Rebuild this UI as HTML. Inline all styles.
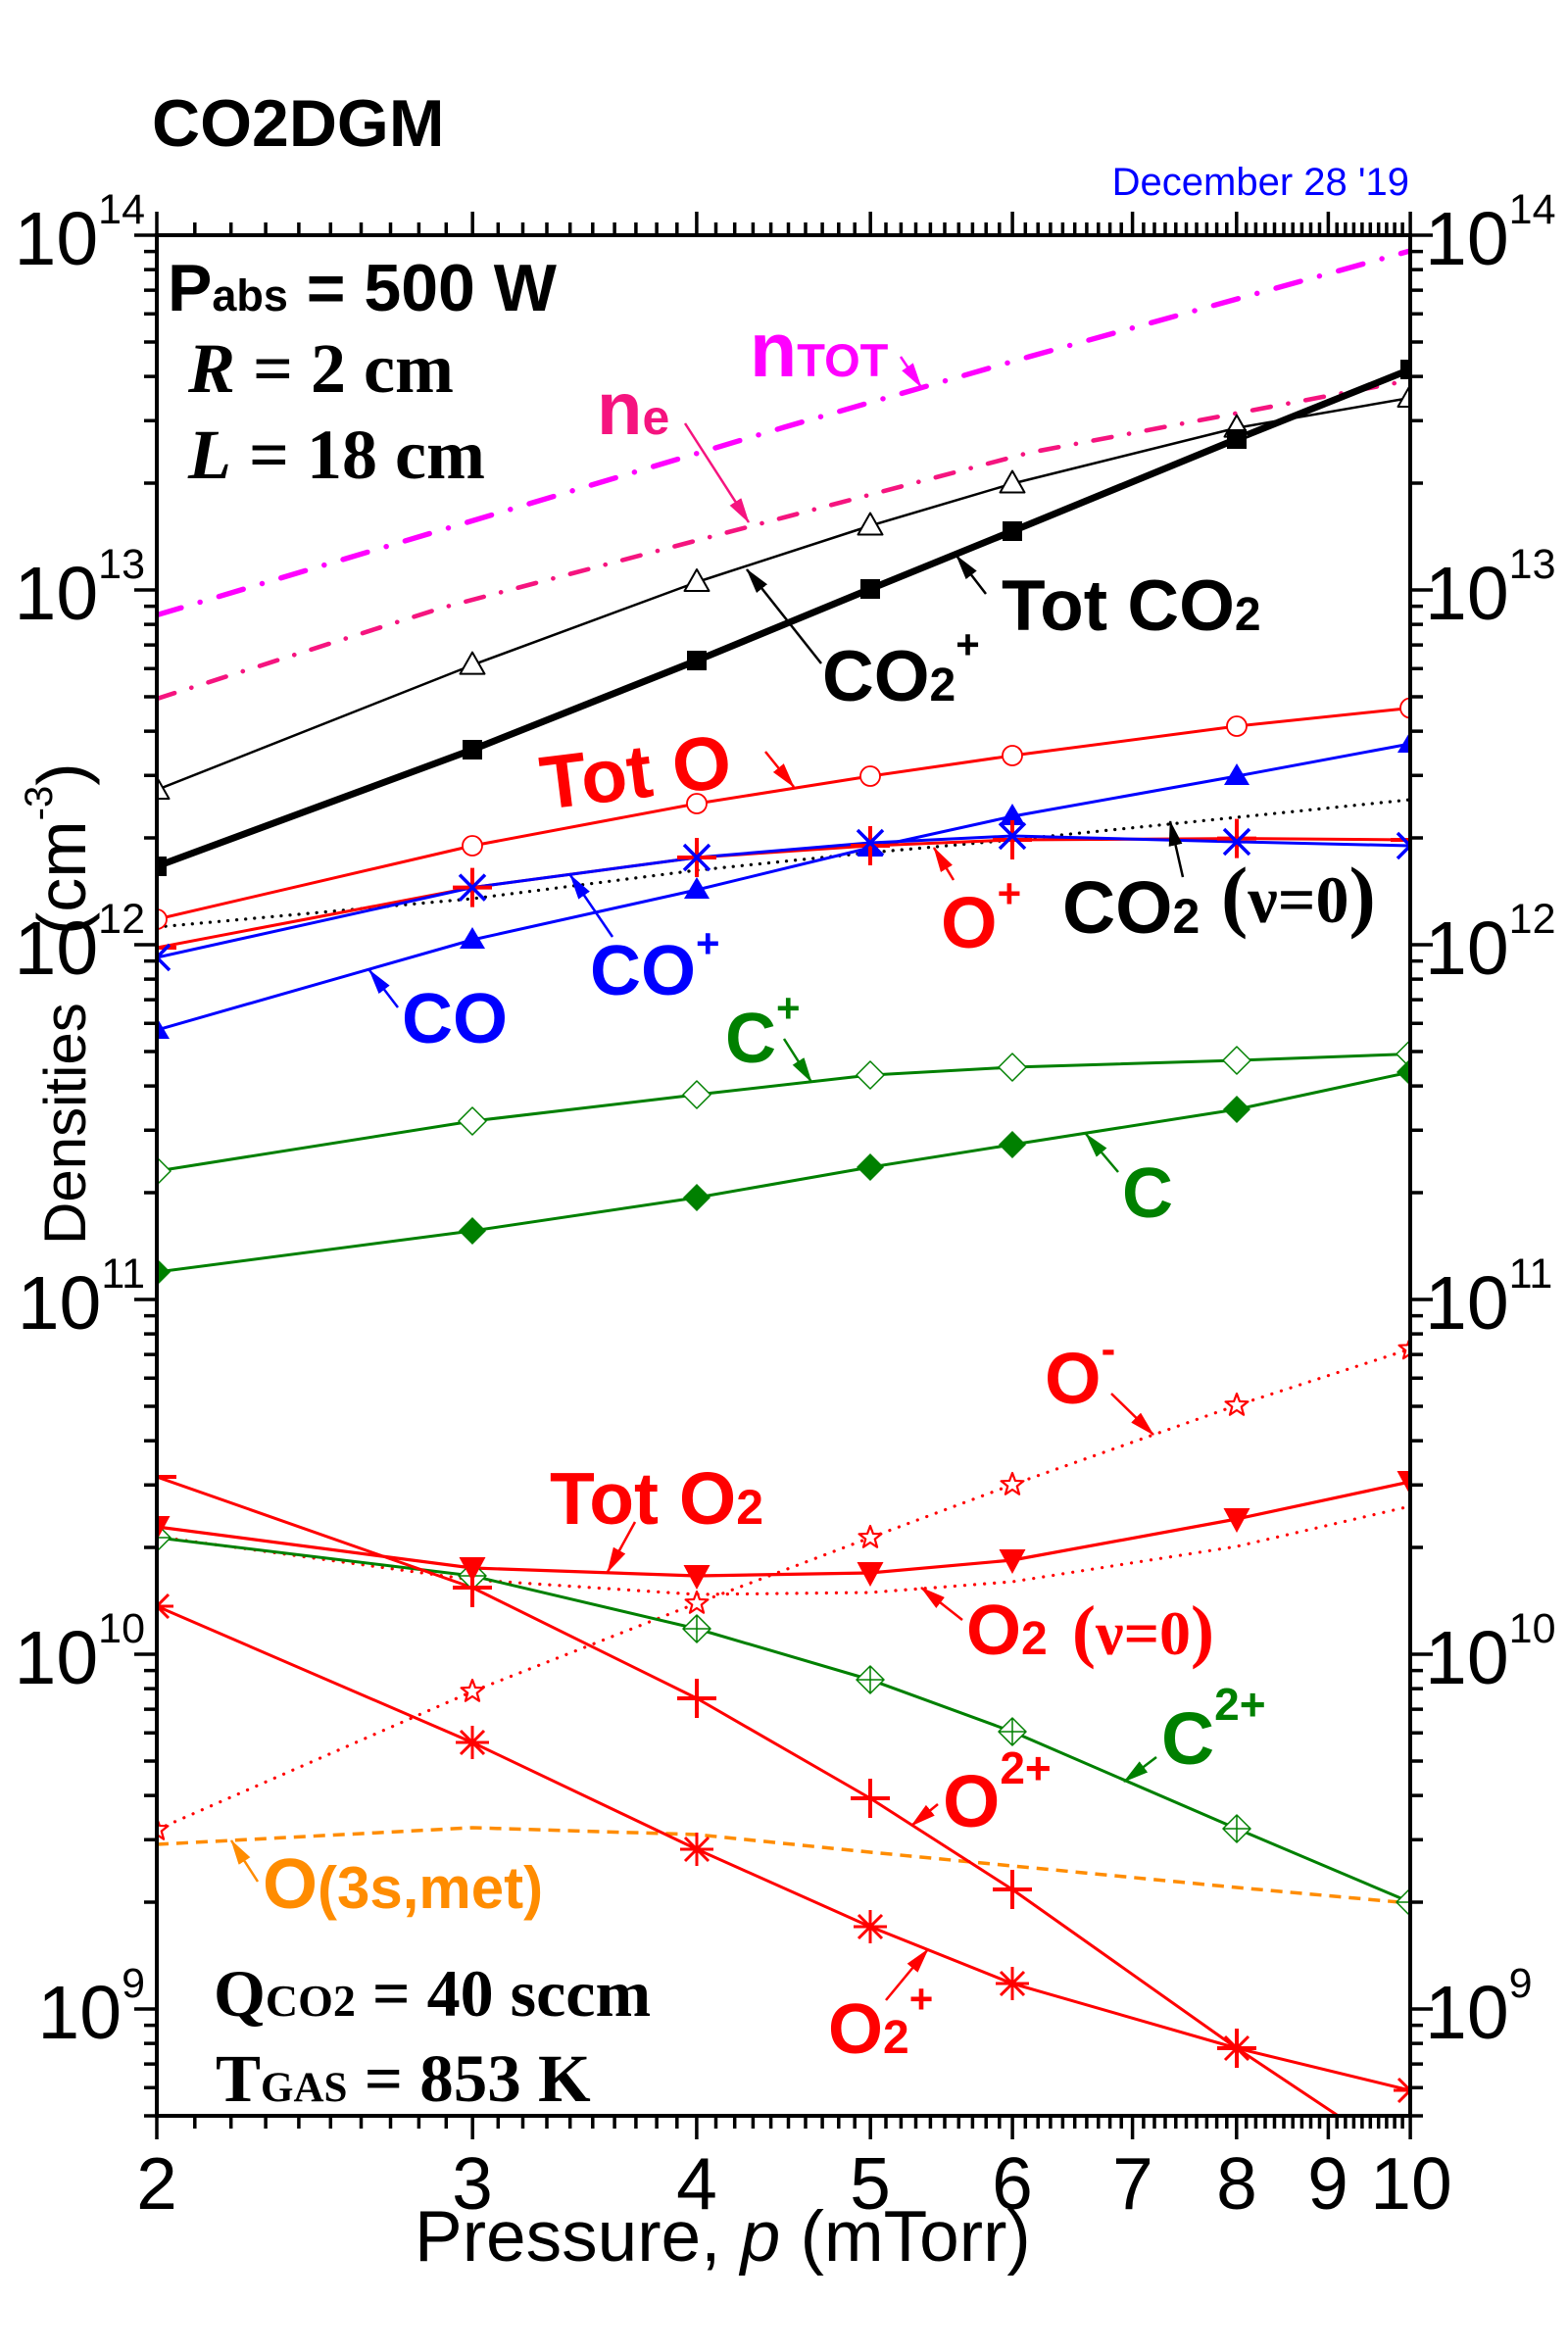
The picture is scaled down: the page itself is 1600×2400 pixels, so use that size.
<!DOCTYPE html>
<html><head><meta charset="utf-8"><style>html,body{margin:0;padding:0;background:#fff}svg{display:block}</style></head>
<body>
<svg xmlns="http://www.w3.org/2000/svg" width="1600" height="2400" viewBox="0 0 1600 2400" font-family="'Liberation Sans', Arial, sans-serif">
<rect width="1600" height="2400" fill="#fff"/>
<defs>
<clipPath id="pc"><rect x="160" y="240" width="1279" height="1919"/></clipPath>
<marker id="mK" viewBox="0 0 26 14" refX="25" refY="7" markerWidth="26" markerHeight="14" markerUnits="userSpaceOnUse" orient="auto"><path d="M0,0L26,7L0,14Z" fill="#000"/></marker>
<marker id="mR" viewBox="0 0 26 14" refX="25" refY="7" markerWidth="26" markerHeight="14" markerUnits="userSpaceOnUse" orient="auto"><path d="M0,0L26,7L0,14Z" fill="#f00"/></marker>
<marker id="mB" viewBox="0 0 26 14" refX="25" refY="7" markerWidth="26" markerHeight="14" markerUnits="userSpaceOnUse" orient="auto"><path d="M0,0L26,7L0,14Z" fill="#00f"/></marker>
<marker id="mG" viewBox="0 0 26 14" refX="25" refY="7" markerWidth="26" markerHeight="14" markerUnits="userSpaceOnUse" orient="auto"><path d="M0,0L26,7L0,14Z" fill="#008000"/></marker>
<marker id="mM" viewBox="0 0 26 14" refX="25" refY="7" markerWidth="26" markerHeight="14" markerUnits="userSpaceOnUse" orient="auto"><path d="M0,0L26,7L0,14Z" fill="#f0f"/></marker>
<marker id="mP" viewBox="0 0 26 14" refX="25" refY="7" markerWidth="26" markerHeight="14" markerUnits="userSpaceOnUse" orient="auto"><path d="M0,0L26,7L0,14Z" fill="#f5147f"/></marker>
<marker id="mO" viewBox="0 0 26 14" refX="25" refY="7" markerWidth="26" markerHeight="14" markerUnits="userSpaceOnUse" orient="auto"><path d="M0,0L26,7L0,14Z" fill="#ff8c00"/></marker>
<path id="triO" d="M0,-13L12.5,9H-12.5Z" fill="#fff" stroke="#000" stroke-width="2"/>
<rect id="sqF" x="-10" y="-10" width="20" height="20" fill="#000"/>
<circle id="cirO" r="10" fill="#fff" stroke="#f00" stroke-width="1.8"/>
<path id="triF" d="M0,-13L13,9H-13Z" fill="#00f"/>
<path id="xB" d="M-13,-13L13,13M-13,13L13,-13" stroke="#00f" stroke-width="3.5" fill="none"/>
<path id="plR" d="M-20,0H20M0,-20V20" stroke="#f00" stroke-width="4" fill="none"/>
<path id="dmO" d="M0,-14L14,0L0,14L-14,0Z" fill="#fff" stroke="#008000" stroke-width="1.5"/>
<path id="dmF" d="M0,-14L14,0L0,14L-14,0Z" fill="#008000"/>
<path id="dmX" d="M0,-14L14,0L0,14L-14,0ZM0,-14V14M-14,0H14" fill="#fff" stroke="#008000" stroke-width="1.5"/>
<path id="stO" d="M0,-12L2.94,-4.05L11.41,-3.71L4.76,1.55L7.05,9.71L0,5L-7.05,9.71L-4.76,1.55L-11.41,-3.71L-2.94,-4.05Z" fill="#fff" stroke="#f00" stroke-width="2.2"/>
<path id="triD" d="M0,14L13.5,-11H-13.5Z" fill="#f00"/>
<path id="ast" d="M0,-17V17M-17,0H17M-12,-12L12,12M-12,12L12,-12" stroke="#f00" stroke-width="3" fill="none"/>
<path id="xt" d="M198.8 240v-13M235.7 240v-13M271.1 240v-13M304.9 240v-13M337.3 240v-13M368.5 240v-13M398.5 240v-13M427.4 240v-13M455.3 240v-13M508.3 240v-13M533.5 240v-13M558 240v-13M581.7 240v-13M604.8 240v-13M627.1 240v-13M648.9 240v-13M670.1 240v-13M690.8 240v-13M730.5 240v-13M749.7 240v-13M768.4 240v-13M786.6 240v-13M804.5 240v-13M822 240v-13M839.1 240v-13M855.8 240v-13M872.2 240v-13M904 240v-13M919.4 240v-13M934.5 240v-13M949.4 240v-13M964 240v-13M978.3 240v-13M992.4 240v-13M1006.2 240v-13M1019.8 240v-13M1046.3 240v-13M1059.2 240v-13M1071.9 240v-13M1084.4 240v-13M1096.7 240v-13M1108.9 240v-13M1120.8 240v-13M1132.6 240v-13M1144.2 240v-13M1166.9 240v-13M1178 240v-13M1189 240v-13M1199.8 240v-13M1210.5 240v-13M1221 240v-13M1231.4 240v-13M1241.6 240v-13M1251.8 240v-13M1271.7 240v-13M1281.4 240v-13M1291 240v-13M1300.5 240v-13M1310 240v-13M1319.2 240v-13M1328.4 240v-13M1337.5 240v-13M1346.5 240v-13M1364.2 240v-13M1372.9 240v-13M1381.4 240v-13M1389.9 240v-13M1398.3 240v-13M1406.7 240v-13M1414.9 240v-13M1423.1 240v-13M1431.1 240v-13M160 240v-24M482.2 240v-24M710.9 240v-24M888.2 240v-24M1033.1 240v-24M1155.6 240v-24M1261.8 240v-24M1355.4 240v-24M1439.1 240v-24" stroke="#000" stroke-width="3.5" fill="none"/>
<path id="yt" d="M160 256.6h-13M160 275.1h-13M160 296.1h-13M160 320.3h-13M160 349h-13M160 384.1h-13M160 429.3h-13M160 493h-13M160 618.6h-13M160 637.1h-13M160 658.1h-13M160 682.3h-13M160 711h-13M160 746.1h-13M160 791.3h-13M160 855h-13M160 980.6h-13M160 999.1h-13M160 1020.1h-13M160 1044.3h-13M160 1073h-13M160 1108.1h-13M160 1153.3h-13M160 1217h-13M160 1342.6h-13M160 1361.1h-13M160 1382.1h-13M160 1406.3h-13M160 1435h-13M160 1470.1h-13M160 1515.3h-13M160 1579h-13M160 1704.6h-13M160 1723.1h-13M160 1744.1h-13M160 1768.3h-13M160 1797h-13M160 1832.1h-13M160 1877.3h-13M160 1941h-13M160 2066.6h-13M160 2085.1h-13M160 2106.1h-13M160 2130.3h-13M160 2159h-13M160 240h-23M160 602h-23M160 964h-23M160 1326h-23M160 1688h-23M160 2050h-23" stroke="#000" stroke-width="3.5" fill="none"/>
</defs>

<g clip-path="url(#pc)" fill="none" stroke-linejoin="round">
<path d="M160,627.6L450,541L800,436L1050,364L1439,256" stroke="#f0f" stroke-width="5.4" stroke-linecap="round" stroke-dasharray="26 20 0.1 20"/>
<path d="M160,713L450,620.5L800,528L1050,462L1439,388" stroke="#f5147f" stroke-width="4.6" stroke-linecap="round" stroke-dasharray="19 18 0.1 18"/>
<path d="M160,946L482,917L711,888L888,870L1033,857L1262,834L1439,816" stroke="#000" stroke-width="3.2" stroke-linecap="round" stroke-dasharray="0.1 9"/>
<path d="M160,806L482,678.6L711,594L888,536.5L1033,493.5L1262,436.6L1439,406" stroke="#000" stroke-width="2.5"/>
<path d="M160,884L482,765L711,674L888,601L1033,542L1262,448L1439,377" stroke="#000" stroke-width="7"/>
<path d="M160,938L482,863L711,820L888,792L1033,771L1262,741L1439,722.5" stroke="#f00" stroke-width="3"/>
<path d="M160,1051L482,959L711,908L888,865L1033,833L1262,792L1439,759" stroke="#00f" stroke-width="3"/>
<path d="M160,967L482,905.6L711,875L888,863L1033,857L1262,855.6L1439,857" stroke="#f00" stroke-width="3"/>
<path d="M160,977L482,905.6L711,875L888,860L1033,853L1262,859L1439,863" stroke="#00f" stroke-width="3"/>
<path d="M160,1195L482,1144L711,1117L888,1097L1033,1089L1262,1082L1439,1075.5" stroke="#008000" stroke-width="3"/>
<path d="M160,1298L482,1256L711,1222L888,1191L1033,1168L1262,1132L1439,1094" stroke="#008000" stroke-width="3"/>
<path d="M160,1867L482,1726L711,1636L888,1569L1033,1515L1262,1434L1439,1376.5" stroke="#f00" stroke-width="3.2" stroke-linecap="round" stroke-dasharray="0.1 10"/>
<path d="M160,1568L482,1612L711,1627L888,1625L1033,1614L1262,1578L1439,1537" stroke="#f00" stroke-width="3.2" stroke-linecap="round" stroke-dasharray="0.1 10"/>
<path d="M160,1558L482,1600L711,1608L888,1605L1033,1592L1262,1550L1439,1512" stroke="#f00" stroke-width="3.2"/>
<path d="M160,1569L482,1608L711,1662L888,1714L1033,1767L1262,1866L1439,1941" stroke="#008000" stroke-width="3"/>
<path d="M160,1882L482,1865L711,1872L888,1890L1033,1904L1262,1926L1439,1942" stroke="#ff8c00" stroke-width="3.5" stroke-dasharray="12 8"/>
<path d="M160,1507L482,1620L711,1733L888,1835L1033,1928L1262,2090L1439,2208" stroke="#f00" stroke-width="3"/>
<path d="M160,1639L482,1778L711,1887L888,1966L1033,2024L1262,2090L1439,2133" stroke="#f00" stroke-width="3"/>

<use href="#triO" x="160" y="806"/><use href="#triO" x="482" y="678.6"/><use href="#triO" x="711" y="594"/><use href="#triO" x="888" y="536.5"/><use href="#triO" x="1033" y="493.5"/><use href="#triO" x="1262" y="436.6"/><use href="#triO" x="1439" y="406"/>
<use href="#sqF" x="160" y="884"/><use href="#sqF" x="482" y="765"/><use href="#sqF" x="711" y="674"/><use href="#sqF" x="888" y="601"/><use href="#sqF" x="1033" y="542"/><use href="#sqF" x="1262" y="448"/><use href="#sqF" x="1439" y="377"/>
<use href="#cirO" x="160" y="938"/><use href="#cirO" x="482" y="863"/><use href="#cirO" x="711" y="820"/><use href="#cirO" x="888" y="792"/><use href="#cirO" x="1033" y="771"/><use href="#cirO" x="1262" y="741"/><use href="#cirO" x="1439" y="722.5"/>
<use href="#triF" x="160" y="1051"/><use href="#triF" x="482" y="959"/><use href="#triF" x="711" y="908"/><use href="#triF" x="888" y="865"/><use href="#triF" x="1033" y="833"/><use href="#triF" x="1262" y="792"/><use href="#triF" x="1439" y="759"/>
<use href="#plR" x="160" y="967"/><use href="#plR" x="482" y="905.6"/><use href="#plR" x="711" y="875"/><use href="#plR" x="888" y="863"/><use href="#plR" x="1033" y="857"/><use href="#plR" x="1262" y="855.6"/><use href="#plR" x="1439" y="857"/>
<use href="#xB" x="160" y="977"/><use href="#xB" x="482" y="905.6"/><use href="#xB" x="711" y="875"/><use href="#xB" x="888" y="860"/><use href="#xB" x="1033" y="853"/><use href="#xB" x="1262" y="859"/><use href="#xB" x="1439" y="863"/>
<use href="#dmO" x="160" y="1195"/><use href="#dmO" x="482" y="1144"/><use href="#dmO" x="711" y="1117"/><use href="#dmO" x="888" y="1097"/><use href="#dmO" x="1033" y="1089"/><use href="#dmO" x="1262" y="1082"/><use href="#dmO" x="1439" y="1075.5"/>
<use href="#dmF" x="160" y="1298"/><use href="#dmF" x="482" y="1256"/><use href="#dmF" x="711" y="1222"/><use href="#dmF" x="888" y="1191"/><use href="#dmF" x="1033" y="1168"/><use href="#dmF" x="1262" y="1132"/><use href="#dmF" x="1439" y="1094"/>
<use href="#stO" x="160" y="1867"/><use href="#stO" x="482" y="1726"/><use href="#stO" x="711" y="1636"/><use href="#stO" x="888" y="1569"/><use href="#stO" x="1033" y="1515"/><use href="#stO" x="1262" y="1434"/><use href="#stO" x="1439" y="1376.5"/>
<use href="#dmX" x="160" y="1569"/><use href="#dmX" x="482" y="1608"/><use href="#dmX" x="711" y="1662"/><use href="#dmX" x="888" y="1714"/><use href="#dmX" x="1033" y="1767"/><use href="#dmX" x="1262" y="1866"/><use href="#dmX" x="1439" y="1941"/>
<use href="#triD" x="160" y="1558"/><use href="#triD" x="482" y="1600"/><use href="#triD" x="711" y="1608"/><use href="#triD" x="888" y="1605"/><use href="#triD" x="1033" y="1592"/><use href="#triD" x="1262" y="1550"/><use href="#triD" x="1439" y="1512"/>
<use href="#plR" x="160" y="1507"/><use href="#plR" x="482" y="1620"/><use href="#plR" x="711" y="1733"/><use href="#plR" x="888" y="1835"/><use href="#plR" x="1033" y="1928"/><use href="#plR" x="1262" y="2090"/>
<use href="#ast" x="160" y="1639"/><use href="#ast" x="482" y="1778"/><use href="#ast" x="711" y="1887"/><use href="#ast" x="888" y="1966"/><use href="#ast" x="1033" y="2024"/><use href="#ast" x="1262" y="2090"/><use href="#ast" x="1439" y="2133"/>
</g>

<g fill="none" stroke-width="2.5">
<path d="M919,364L940,395" stroke="#f0f" marker-end="url(#mM)"/>
<path d="M699,432L764,533" stroke="#f5147f" marker-end="url(#mP)"/>
<path d="M1006,606L976,567" stroke="#000" marker-end="url(#mK)"/>
<path d="M838,677L762,581" stroke="#000" marker-end="url(#mK)"/>
<path d="M781,767L810,803" stroke="#f00" marker-end="url(#mR)"/>
<path d="M973,898L953,865" stroke="#f00" marker-end="url(#mR)"/>
<path d="M1207,895L1194,838" stroke="#000" marker-end="url(#mK)"/>
<path d="M625,956L582,893" stroke="#00f" marker-end="url(#mB)"/>
<path d="M406,1028L377,990" stroke="#00f" marker-end="url(#mB)"/>
<path d="M800,1060L828,1104" stroke="#008000" marker-end="url(#mG)"/>
<path d="M1141,1196L1108,1157" stroke="#008000" marker-end="url(#mG)"/>
<path d="M1134,1422L1177,1464" stroke="#f00" marker-end="url(#mR)"/>
<path d="M648,1553L620,1604" stroke="#f00" marker-end="url(#mR)"/>
<path d="M982,1653L940,1620" stroke="#f00" marker-end="url(#mR)"/>
<path d="M1180,1793L1147,1818" stroke="#008000" marker-end="url(#mG)"/>
<path d="M957,1841L930,1863" stroke="#f00" marker-end="url(#mR)"/>
<path d="M263,1920L236,1878" stroke="#ff8c00" marker-end="url(#mO)"/>
<path d="M904,2041L947,1989" stroke="#f00" marker-end="url(#mR)"/>
</g>

<rect x="160" y="240" width="1279" height="1919" fill="none" stroke="#000" stroke-width="4"/>
<use href="#xt"/>
<use href="#xt" transform="translate(0,2399) scale(1,-1)"/>
<use href="#yt"/>
<use href="#yt" transform="translate(1599,0) scale(-1,1)"/>

<g font-size="77" fill="#000">
<text x="148" y="270" text-anchor="end">10<tspan font-size="43" dy="-42">14</tspan></text>
<text x="148" y="632" text-anchor="end">10<tspan font-size="43" dy="-42">13</tspan></text>
<text x="148" y="994" text-anchor="end">10<tspan font-size="43" dy="-42">12</tspan></text>
<text x="148" y="1356" text-anchor="end">10<tspan font-size="43" dy="-42">11</tspan></text>
<text x="148" y="1718" text-anchor="end">10<tspan font-size="43" dy="-42">10</tspan></text>
<text x="148" y="2080" text-anchor="end">10<tspan font-size="43" dy="-42">9</tspan></text>
<text x="1454" y="270">10<tspan font-size="43" dy="-42">14</tspan></text>
<text x="1454" y="632">10<tspan font-size="43" dy="-42">13</tspan></text>
<text x="1454" y="994">10<tspan font-size="43" dy="-42">12</tspan></text>
<text x="1454" y="1356">10<tspan font-size="43" dy="-42">11</tspan></text>
<text x="1454" y="1718">10<tspan font-size="43" dy="-42">10</tspan></text>
<text x="1454" y="2080">10<tspan font-size="43" dy="-42">9</tspan></text>
</g>
<g font-size="75" text-anchor="middle" fill="#000">
<text x="160" y="2254">2</text><text x="482" y="2254">3</text><text x="711" y="2254">4</text><text x="888" y="2254">5</text><text x="1033" y="2254">6</text><text x="1156" y="2254">7</text><text x="1262" y="2254">8</text><text x="1355" y="2254">9</text><text x="1440" y="2254">10</text>
</g>
<text x="423" y="2307" font-size="73">Pressure, <tspan font-style="italic">p</tspan> (mTorr)</text>
<text transform="rotate(-90)" font-size="60" x="-1270" y="87">Densities</text>
<text transform="rotate(-90)" font-size="70" x="-954" y="87">(cm<tspan font-size="40" dy="-34">-3</tspan><tspan dy="34">)</tspan></text>

<text x="155" y="149" font-size="68" font-weight="bold">CO2DGM</text>
<text x="1438" y="199" text-anchor="end" font-size="40" fill="#0000ff">December 28 '19</text>
<text x="171" y="317" font-size="68" font-weight="bold">P<tspan font-size="45">abs</tspan> = 500 W</text>
<g font-family="'Liberation Serif', 'Times New Roman', serif" font-weight="bold">
<text x="192" y="400" font-size="72"><tspan font-style="italic">R</tspan> = 2 cm</text>
<text x="192" y="488" font-size="72"><tspan font-style="italic">L</tspan> = 18 cm</text>
<text x="218" y="2057" font-size="68">Q<tspan font-size="46">CO2</tspan> = 40 sccm</text>
<text x="220" y="2144" font-size="69">T<tspan font-size="43">GAS</tspan> = 853 K</text>
</g>

<g font-weight="bold">
<text x="765" y="384" font-size="79" fill="#f0f">n<tspan font-size="47">TOT</tspan></text>
<text x="609" y="443" font-size="76" fill="#f5147f">n<tspan font-size="50">e</tspan></text>
<text x="1022" y="643" font-size="73">Tot CO<tspan font-size="48">2</tspan></text>
<text x="839" y="715" font-size="73">CO<tspan font-size="48">2</tspan><tspan font-size="42" dy="-43">+</tspan></text>
<text transform="rotate(-7 555 826)" x="555" y="826" font-size="77" fill="#f00">Tot O</text>
<text x="960" y="967" font-size="74" fill="#f00">O<tspan font-size="42" dy="-41">+</tspan></text>
<text x="1084" y="952" font-size="75">CO<tspan font-size="50">2</tspan></text>
<text x="1246" y="941" font-family="'Liberation Serif', serif" font-size="68"><tspan font-size="82">(</tspan>ν=0<tspan font-size="82">)</tspan></text>
<text x="602" y="1015" font-size="72" fill="#00f">CO<tspan font-size="42" dy="-38">+</tspan></text>
<text x="410" y="1064" font-size="72" fill="#00f">CO</text>
<text x="740" y="1084" font-size="72" fill="#008000">C<tspan font-size="42" dy="-41">+</tspan></text>
<text x="1145" y="1242" font-size="72" fill="#008000">C</text>
<text x="1066" y="1432" font-size="74" fill="#f00">O<tspan font-size="44" dy="-41">-</tspan></text>
<text x="561" y="1555" font-size="75" fill="#f00">Tot O<tspan font-size="50">2</tspan></text>
<text x="986" y="1688" font-size="72" fill="#f00">O<tspan font-size="48">2</tspan></text>
<text x="1094" y="1688" font-family="'Liberation Serif', serif" font-size="64" fill="#f00"><tspan font-size="72">(</tspan>ν=0<tspan font-size="72">)</tspan></text>
<text x="1185" y="1800" font-size="75" fill="#008000">C<tspan font-size="46" dy="-45">2+</tspan></text>
<text x="962" y="1864" font-size="75" fill="#f00">O<tspan font-size="46" dy="-44">2+</tspan></text>
<text x="268" y="1947" font-size="72" fill="#ff8c00">O<tspan font-size="60">(3s,met)</tspan></text>
<text x="845" y="2095" font-size="72" fill="#f00">O<tspan font-size="48">2</tspan><tspan font-size="42" dy="-41">+</tspan></text>
</g>
</svg>
</body></html>
